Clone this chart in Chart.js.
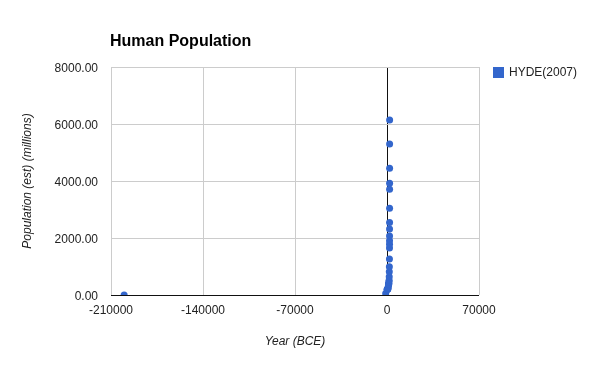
<!DOCTYPE html>
<html>
<head>
<meta charset="utf-8">
<script src="https://cdn.jsdelivr.net/npm/chart.js@4/dist/chart.umd.min.js"></script>
<style>
  html, body { margin: 0; padding: 0; background: #fff; }
  #wrap { position: relative; width: 593px; height: 365px; }
</style>
</head>
<body>
<div id="wrap"><canvas id="chart" width="593" height="365"></canvas></div>
<script>
// HYDE (2007) estimates, years and population in millions
const years = [-200000, -1000, 0, 200, 400, 600, 800, 1000, 1100, 1200, 1300, 1400, 1500, 1600,
               1700, 1750, 1800, 1850, 1900, 1910, 1920, 1930, 1940, 1950, 1960, 1970, 1975,
               1980, 1990, 2000];
const population = [2, 50, 188, 202, 205, 213, 226, 295, 353, 393, 392, 390, 461, 520,
                    640, 820, 990, 1260, 1650, 1780, 1900, 2070, 2320, 2540, 3040, 3710, 3920,
                    4450, 5300, 6140];
const seriesName = 'HYDE(2007)';
const chartTitle = 'Human Population';
const xTicks = [-210000, -140000, -70000, 0, 70000];
const yTicks = [0, 2000, 4000, 6000, 8000];

const points = years.map((y, i) => ({ x: y, y: population[i] }));
const blue = '#3366cc';
const font = 'Arial, "Liberation Sans", sans-serif';

const extras = {
  id: 'extras',
  afterDraw(c) {
    const g = c.ctx;
    g.save();
    g.fillStyle = '#000';
    g.font = 'bold 16px ' + font;
    g.textBaseline = 'middle';
    g.fillText(chartTitle, 110, 42);
    g.fillStyle = blue;
    g.fillRect(493, 67, 11, 11);
    g.fillStyle = '#222';
    g.font = '12px ' + font;
    g.fillText(seriesName, 509, 73);
    g.restore();
  }
};

new Chart(document.getElementById('chart').getContext('2d'), {
  type: 'scatter',
  data: {
    datasets: [{
      label: seriesName,
      data: points,
      backgroundColor: blue,
      borderWidth: 0,
      pointRadius: 3.5,
      pointHoverRadius: 3.5
    }]
  },
  plugins: [extras],
  options: {
    responsive: false,
    animation: false,
    layout: { padding: { left: 0, top: 67, right: 114, bottom: 0 } },
    plugins: { legend: { display: false }, title: { display: false }, tooltip: { enabled: false } },
    scales: {
      x: {
        type: 'linear',
        min: -210000, max: 70000,
        afterBuildTicks: s => { s.ticks = xTicks.map(v => ({ value: v })); },
        afterFit: s => { s.height = 70; },
        grid: { drawTicks: false, color: ctx => ctx.tick && ctx.tick.value === 0 ? '#111' : '#ccc' },
        border: { display: false },
        ticks: { padding: 8, color: '#222', font: { family: font, size: 12 }, maxRotation: 0, callback: v => String(v) },
        title: { display: true, text: 'Year (BCE)', color: '#222', font: { family: font, size: 12, style: 'italic' }, padding: { top: 0, bottom: 16 } }
      },
      y: {
        min: 0, max: 8000,
        afterBuildTicks: s => { s.ticks = yTicks.map(v => ({ value: v })); },
        afterFit: s => { s.width = 111; },
        grid: { drawTicks: false, color: ctx => ctx.tick && ctx.tick.value === 0 ? '#111' : '#ccc' },
        border: { display: false },
        ticks: { padding: 13, labelOffset: 2, color: '#222', font: { family: font, size: 12 }, callback: v => Number(v).toFixed(2) },
        title: { display: true, text: 'Population (est) (millions)', color: '#222', font: { family: font, size: 12, style: 'italic' }, padding: { top: 20, bottom: 0 } }
      }
    }
  }
});
</script>
</body>
</html>
